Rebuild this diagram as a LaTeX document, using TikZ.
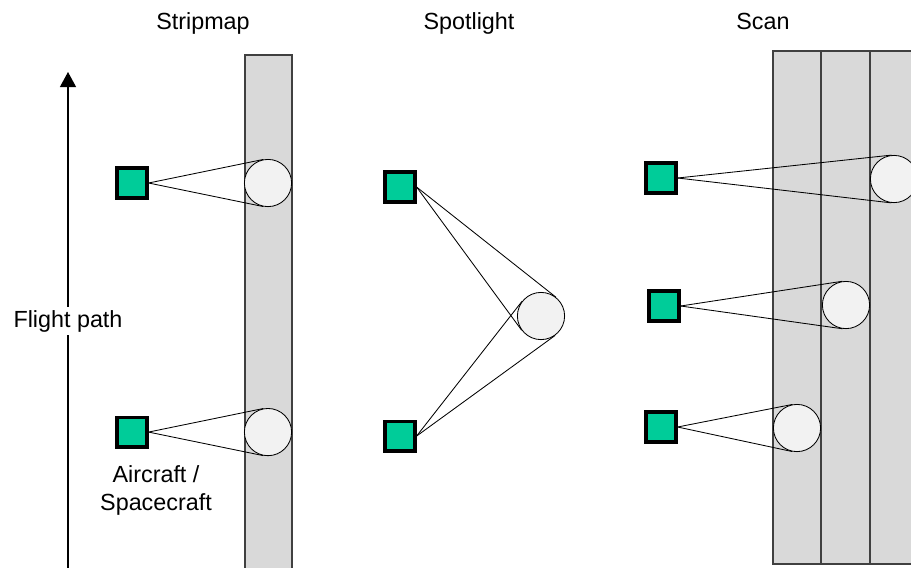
\documentclass[tikz,border=0pt]{standalone}
\usepackage{fontspec}
\setmainfont{Liberation Sans}
\usetikzlibrary{calc,arrows.meta}
\definecolor{sargreen}{RGB}{0,204,153}
\definecolor{spotgray}{RGB}{242,242,242}
\definecolor{swathgray}{RGB}{217,217,217}

\begin{document}
\begin{tikzpicture}[x=0.025cm,y=-0.025cm,node distance=6.225cm,
  craft/.style={draw,line width=2.8pt,fill=sargreen,minimum size=0.73cm,inner sep=0pt},
  spot/.style={circle,draw,line width=0.6pt,fill=spotgray,minimum size=1.18cm,inner sep=0pt},
  swath/.style={draw=black!75,line width=0.8pt,fill=swathgray},
  beam/.style={line width=0.6pt},
  lbl/.style={font=\fontsize{16.6}{19.9}\selectfont,inner sep=1pt}]

\clip(0,0)rectangle(911,567);

\draw[swath](245,55)rectangle(292,580);
\draw[swath](773,51)rectangle(821,564);
\draw[swath](821,51)rectangle(870,564);
\draw[swath](870,51)rectangle(930,564);

\node[spot](b1)at(268,183){};
\node[spot](b2)[below of=b1]{};
\node[spot](b3)at(541,316){};
\node[spot](b4)at(894,179){};
\node[spot](b5)at(846,305){};
\node[spot](b6)at(797,428){};

\node[craft](s1)at(132,183){};
\node[craft](s2)[below of=s1]{};
\node[craft](p1)at(400,187){};
\node[craft](p2)[below of=p1]{};
\node[craft](c1)at(661,178){};
\node[craft](c2)at(664,306){};
\node[craft](c3)at(661,427){};

\path[beam](s1.east)edge(tangent cs:node=b1,point={(s1.east)},solution=1)
	(s1.east)edge(tangent cs:node=b1,point={(s1.east)},solution=2)
	(s2.east)edge(tangent cs:node=b2,point={(s2.east)},solution=1)
	(s2.east)edge(tangent cs:node=b2,point={(s2.east)},solution=2)
	(p1.east)edge(tangent cs:node=b3,point={(p1.east)},solution=1)
	(p1.east)edge(tangent cs:node=b3,point={(p1.east)},solution=2)
	(p2.east)edge(tangent cs:node=b3,point={(p2.east)},solution=1)
	(p2.east)edge(tangent cs:node=b3,point={(p2.east)},solution=2)
	(c1.east)edge(tangent cs:node=b4,point={(c1.east)},solution=1)
	(c1.east)edge(tangent cs:node=b4,point={(c1.east)},solution=2)
	(c2.east)edge(tangent cs:node=b5,point={(c2.east)},solution=1)
	(c2.east)edge(tangent cs:node=b5,point={(c2.east)},solution=2)
	(c3.east)edge(tangent cs:node=b6,point={(c3.east)},solution=1)
	(c3.east)edge(tangent cs:node=b6,point={(c3.east)},solution=2);

\coordinate(fp0)at(68,570);
\coordinate(fp1)at(68,72);
\draw[line width=0.9pt,-{Triangle[width=11.4pt,length=10.7pt]}](fp0)--(fp1);
\node[lbl,fill=white,inner sep=2pt,anchor=base](fp)at(68,327){Flight path};

\node[lbl,anchor=base](t1)at(203,29){Stripmap};
\node[lbl,anchor=base](t2)at(469,29){Spotlight};
\node[lbl,anchor=base](t3)at(763,29){Scan};
\node[lbl,align=center](ac)[below of=s2,node distance=1.45cm,xshift=0.6cm]{Aircraft /\\Spacecraft};

\end{tikzpicture}
\end{document}
